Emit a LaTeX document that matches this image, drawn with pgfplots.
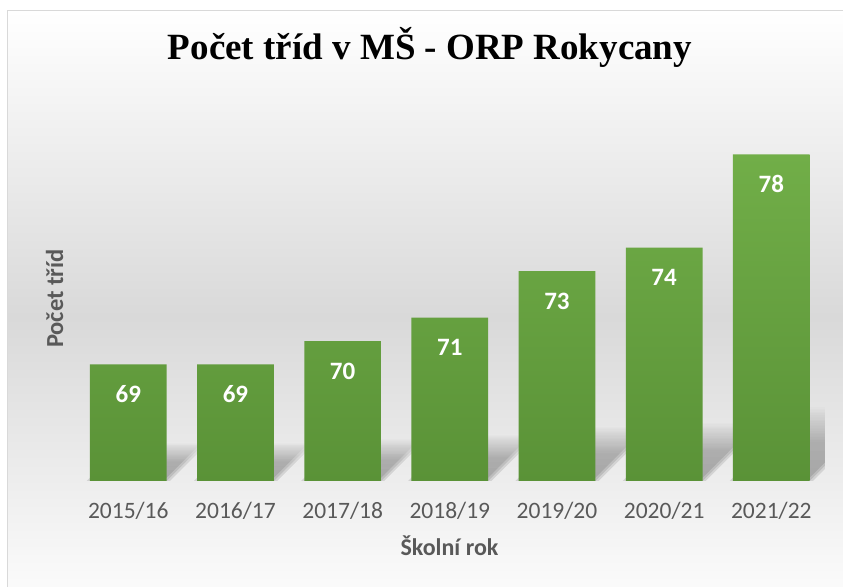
\documentclass[border=0pt]{standalone}
\usepackage{fontspec}
\setmainfont{Carlito}
\newfontfamily\titlefont{Liberation Serif}
\usepackage{pgfplots}
\pgfplotsset{compat=1.18}
\usetikzlibrary{fadings}
\definecolor{barTop}{HTML}{71AE48}
\definecolor{barBot}{HTML}{5A9237}
\definecolor{txtGray}{HTML}{595959}
\definecolor{bgMid}{HTML}{D9D9D9}
\definecolor{borderGray}{HTML}{D9D9D9}
\tikzfading[name=shfade, top color=transparent!100, bottom color=transparent!0, middle color=transparent!15]
\begin{document}
\begin{tikzpicture}
\path[use as bounding box] (0,0) rectangle (843bp,587bp);
\begin{scope}
\clip (0,0) rectangle (843bp,587bp);
\shade[top color=white, bottom color=white, middle color=bgMid] (7bp,-36bp) rectangle (860bp,576bp);
\draw[borderGray, line width=1bp] (7bp,-40bp) -- (7bp,576bp) -- (860bp,576bp);
\end{scope}
\begin{axis}[at={(74.7bp,106bp)}, anchor=south west, scale only axis,
 width=750.2bp, height=373.3bp,
 xmin=-0.5, xmax=6.5, ymin=64, ymax=80,
 /pgf/number format/assume math mode=true,
 axis line style={draw=none}, ytick=\empty, xtick=data, major tick length=0pt,
 tick style={draw=none},
 xticklabels={2015/16,2016/17,2017/18,2018/19,2019/20,2020/21,2021/22},
 xticklabel style={font=\fontsize{23.5bp}{28bp}\selectfont, text=txtGray, anchor=base, yshift=-37.5bp},
 xlabel={Školní rok},
 xlabel style={at={(axis description cs:0.4996,-0.2001)}, anchor=base, font=\bfseries\fontsize{24bp}{28bp}\selectfont, text=txtGray},
 ylabel={Počet tříd},
 ylabel style={at={(axis description cs:-0.0156,0.4887)}, rotate=0, anchor=base, font=\bfseries\fontsize{24.5bp}{28bp}\selectfont, text=txtGray},
 title={Počet tříd v MŠ - ORP Rokycany},
 title style={at={(axis description cs:0.4736,1.1144)}, anchor=base, font=\titlefont\bfseries\fontsize{37bp}{44bp}\selectfont, text=black},
]
% soft perspective shadows behind the bars (derived from the bar values)
\foreach \i/\v in {0/69,1/69,2/70,3/71,4/73,5/74,6/78} {
  \pgfmathsetmacro\hs{12.7+0.172*(\v-64)*23.33+6}
  \pgfmathsetmacro\yt{64+\hs/23.33}
  \foreach \d in {-0.03,0,0.03} {
    \pgfmathsetmacro\xl{\i-0.358+\d}
    \pgfmathsetmacro\xr{\i+0.358+\d}
    \pgfmathsetmacro\xrr{\xr+\hs/107.17}
    \pgfmathsetmacro\xll{\xl+\hs/107.17}
    \edef\temp{\noexpand\fill[black, fill opacity=0.11, path fading=shfade]
      (axis cs:\xl,64) -- (axis cs:\xr,64) -- (axis cs:\xrr,\yt) -- (axis cs:\xll,\yt) -- cycle;}
    \temp
  }
}
\addplot[ybar, bar width=0.7157, draw=none, top color=barTop, bottom color=barBot,
 nodes near coords,
 nodes near coords style={font=\bfseries\fontsize{25bp}{30bp}\selectfont, text=white, anchor=base, yshift=-38.3bp}]
 coordinates {(0,69) (1,69) (2,70) (3,71) (4,73) (5,74) (6,78)};
\end{axis}
\end{tikzpicture}
\end{document}
